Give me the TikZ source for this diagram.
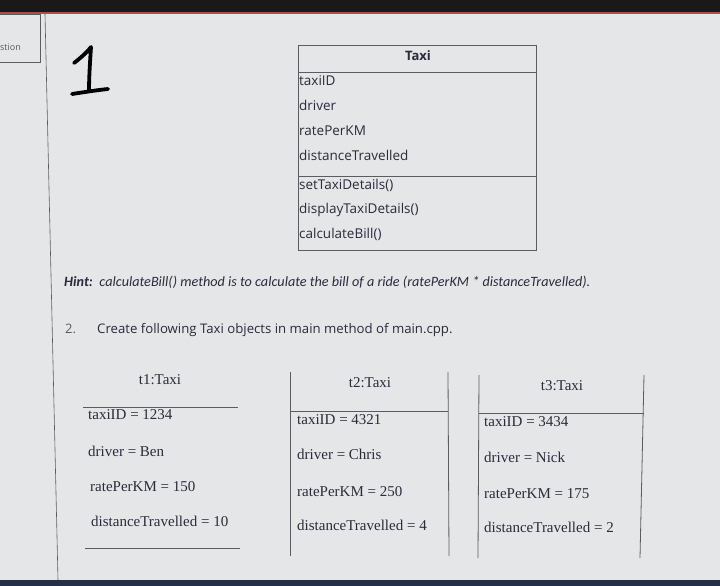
\documentclass[tikz,border=0pt]{standalone}
\usepackage{fontspec}
\setmainfont{Liberation Serif}
\newfontfamily\uifont{Open Sans}
\newfontfamily\hintfont{Carlito}
\definecolor{pagebg}{HTML}{E4E6E8}
\definecolor{ink}{HTML}{2B2B3A}
\definecolor{rule}{HTML}{5A5C62}
\definecolor{topband}{HTML}{1A1818}
\definecolor{botband}{HTML}{243049}
\tikzset{
  attr/.style={anchor=mid west, inner sep=0pt, yshift=-1.5pt, text=ink, font=\uifont\fontsize{13.5}{15}\selectfont},
  objtxt/.style={anchor=mid west, inner sep=0pt, yshift=-2pt, text=ink, font=\fontsize{15}{17}\selectfont},
  objtitle/.style={anchor=mid, inner sep=0pt, yshift=-2pt, text=ink, font=\fontsize{15}{17}\selectfont},
  ln/.style={draw=rule, line width=0.8pt},
}
\begin{document}
\begin{tikzpicture}[x=1pt, y=-1pt]
\useasboundingbox (0,0) rectangle (720,586);
% background
\fill[pagebg] (0,0) rectangle (720,586);
\fill[topband] (0,0) rectangle (720,12);
\fill[red!55!black!70] (0,12) rectangle (720,14);
\fill[botband] (0,580) rectangle (720,586);
% left margin box
\draw[ln, line width=0.6pt] (0,14) -- (40,14) -- (40,62) -- (0,62);
\node[anchor=mid west, inner sep=0pt, text=rule, font=\uifont\fontsize{9}{10}\selectfont] (stion) at (0,48) {stion};
\coordinate (lt) at (45,14);
\coordinate (lb) at (58,580);
\draw[ln, line width=0.6pt] (lt) -- (lb);
% handwritten 1
\draw[line width=3.8pt, line cap=round, line join=round, black]
  (74,63) .. controls (82,57) and (89,50) .. (91,47)
  .. controls (90,62) and (89,78) .. (89,91);
\draw[line width=3.8pt, line cap=round, black] (72,94) .. controls (85,92) and (98,90) .. (108,89);
% Taxi class
\node[draw=rule, line width=0.8pt, minimum width=238pt, minimum height=205pt, anchor=north west, inner sep=0pt] (cls) at (298,45) {};
\node[anchor=mid, inner sep=0pt, yshift=-1.5pt, text=ink, font=\uifont\bfseries\fontsize{13}{15}\selectfont] (ctitle) at (418,57) {Taxi};
\coordinate (s1l) at (298,72); \coordinate (s1r) at (536,72);
\coordinate (s2l) at (298,176); \coordinate (s2r) at (536,176);
\draw[ln] (s1l) -- (s1r);
\draw[ln] (s2l) -- (s2r);
\node[attr] (a1) at (299,82) {taxiID};
\node[attr] (a2) at (299,107) {driver};
\node[attr] (a3) at (299,132) {ratePerKM};
\node[attr] (a4) at (299,157) {distanceTravelled};
\node[attr] (m1) at (299,186) {setTaxiDetails()};
\node[attr] (m2) at (299,210) {displayTaxiDetails()};
\node[attr] (m3) at (299,235) {calculateBill()};
% hint
\node[anchor=mid west, inner sep=0pt, yshift=-1.5pt, text=ink, font=\hintfont\itshape\fontsize{14.2}{16}\selectfont] (hint) at (64,283)
  {\textbf{Hint:}\, calculateBill() method is to calculate the bill of a ride (ratePerKM * distanceTravelled).};
\node[attr, text=rule, font=\uifont\fontsize{13}{15}\selectfont] (num) at (65,330) {2.};
\node[attr, font=\uifont\fontsize{13.2}{15}\selectfont] (task) at (97,330) {Create following Taxi objects in main method of main.cpp.};
% object t1
\node[objtitle] (t1) at (160,380) {t1:Taxi};
\coordinate (t1a) at (83,407); \coordinate (t1b) at (238,407);
\coordinate (t1c) at (85,548); \coordinate (t1d) at (240,548);
\draw[ln] (t1a) -- (t1b);
\draw[ln] (t1c) -- (t1d);
\node[objtxt] (t1x) at (88,415) {taxiID = 1234};
\node[objtxt] (t1y) at (88,452) {driver = Ben};
\node[objtxt] (t1z) at (90,487) {ratePerKM = 150};
\node[objtxt] (t1w) at (91,522) {distanceTravelled = 10};
% object t2
\node[objtitle] (t2) at (370,383) {t2:Taxi};
\coordinate (t2tl) at (290,372); \coordinate (t2bl) at (290,556);
\coordinate (t2tr) at (448,372); \coordinate (t2br) at (449,556);
\coordinate (t2a) at (290,411); \coordinate (t2b) at (448,411);
\draw[ln] (t2tl) -- (t2bl);
\draw[ln] (t2tr) -- (t2br);
\draw[ln] (t2a) -- (t2b);
\node[objtxt] (t2x) at (297,420) {taxiID = 4321};
\node[objtxt] (t2y) at (297,455) {driver = Chris};
\node[objtxt] (t2z) at (297,492) {ratePerKM = 250};
\node[objtxt] (t2w) at (297,526) {distanceTravelled = 4};
% object t3
\node[objtitle] (t3) at (562,386) {t3:Taxi};
\coordinate (t3tl) at (479,375); \coordinate (t3bl) at (478,558);
\coordinate (t3tr) at (644,375); \coordinate (t3br) at (640,558);
\coordinate (t3a) at (479,413); \coordinate (t3b) at (644,413);
\draw[ln] (t3tl) -- (t3bl);
\draw[ln] (t3tr) -- (t3br);
\draw[ln] (t3a) -- (t3b);
\node[objtxt] (t3x) at (484,422) {taxiID = 3434};
\node[objtxt] (t3y) at (484,458) {driver = Nick};
\node[objtxt] (t3z) at (484,494) {ratePerKM = 175};
\node[objtxt] (t3w) at (484,528) {distanceTravelled = 2};
\end{tikzpicture}
\end{document}
